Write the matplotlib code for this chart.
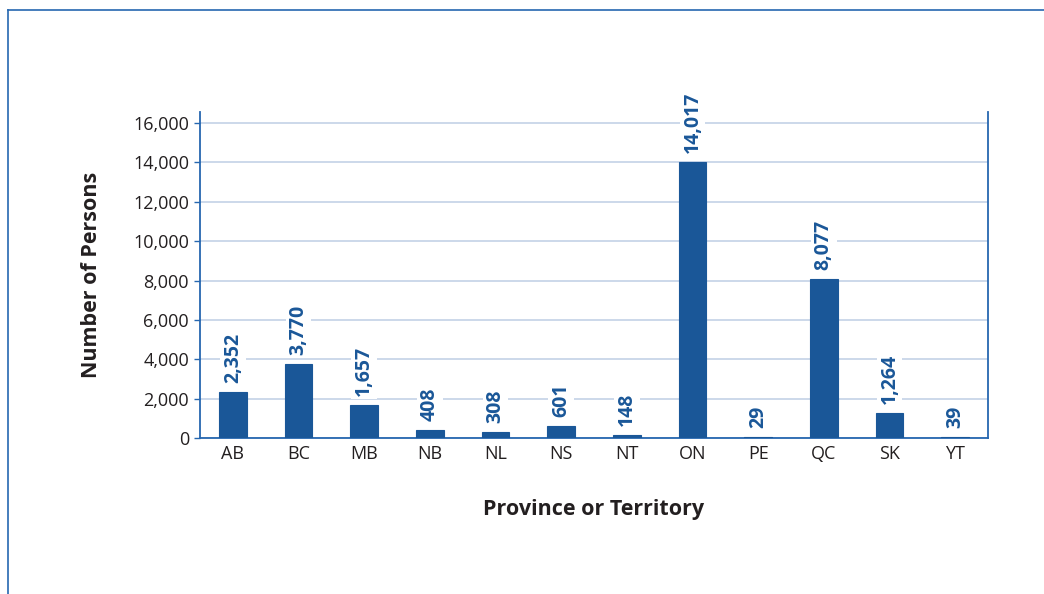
import matplotlib
matplotlib.use("Agg")
import matplotlib.pyplot as plt
from matplotlib.lines import Line2D

BAR = "#1a5798"
SPINE = "#2667b0"
GRID = "#c3d2e6"
TEXT = "#231f20"

provinces = ["AB", "BC", "MB", "NB", "NL", "NS", "NT", "ON", "PE", "QC", "SK", "YT"]
persons = [2352, 3770, 1657, 408, 308, 601, 148, 14017, 29, 8077, 1264, 39]
yticks = [0, 2000, 4000, 6000, 8000, 10000, 12000, 14000, 16000]

plt.rcParams["font.family"] = ["Open Sans", "DejaVu Sans"]

fig = plt.figure(figsize=(10.44, 5.94), dpi=100)
ax = fig.add_axes([0.1916, 0.2626, 0.7548, 0.5488])

x = range(len(provinces))
ax.bar(x, persons, width=0.42, color=BAR, edgecolor=BAR, linewidth=0.8,
       zorder=3)

# rotated value labels above each bar, white box breaks the grid lines
for xi, v in zip(x, persons):
    ax.annotate(f"{v:,}", (xi, v), xytext=(0, 6.5), textcoords="offset points",
                rotation=90, ha="center", va="bottom", fontsize=14,
                fontweight="bold", color=BAR, zorder=4,
                bbox=dict(boxstyle="square,pad=0.15", fc="white", ec="none"))

ax.set_xlim(-0.5, len(provinces) - 0.5)
ax.set_ylim(0, 16560)
ax.set_xticks(list(x))
ax.set_xticklabels(provinces)
ax.set_yticks(yticks)
ax.set_yticklabels([f"{t:,}" for t in yticks])

ax.yaxis.grid(True, color=GRID, linewidth=1.2, zorder=0)
ax.set_axisbelow(True)

ax.tick_params(axis="y", length=4, width=1, color=SPINE, labelsize=13,
               labelcolor=TEXT, pad=4)
ax.tick_params(axis="x", length=0, labelsize=13, labelcolor=TEXT, pad=5)

for side in ["left", "right", "bottom"]:
    ax.spines[side].set_color(SPINE)
    ax.spines[side].set_linewidth(1.3)
ax.spines["top"].set_visible(False)

ax.set_ylabel("Number of Persons", fontsize=15.5, fontweight="bold",
              color=TEXT, labelpad=22)
ax.set_xlabel("Province or Territory", fontsize=15.5, fontweight="bold",
              color=TEXT, labelpad=26)

# outer frame: left and top edges only
fig.add_artist(Line2D([8 / 1044, 8 / 1044], [0, 1 - 10 / 594],
                      color=SPINE, linewidth=1.2))
fig.add_artist(Line2D([8 / 1044, 1], [1 - 10 / 594, 1 - 10 / 594],
                      color=SPINE, linewidth=1.2))

fig.savefig("out.png", dpi=100, facecolor="white")
